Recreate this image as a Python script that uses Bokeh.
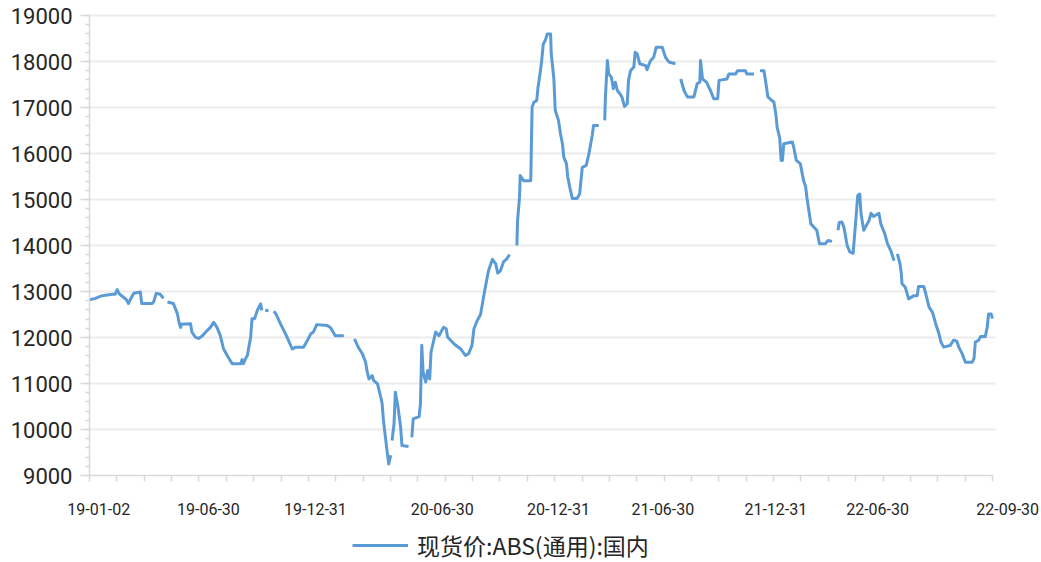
from bokeh.plotting import figure
from bokeh.models import (Range1d, FixedTicker, SingleIntervalTicker, Legend,
                          LegendItem, ColumnDataSource, Grid)
from bokeh.embed import file_html
from bokeh.resources import INLINE
import numpy as np

NA = float("nan")  # gap in the series

# ---- data ----
start_date = "2019-01-02"          # day 0
end_day = 1367                     # 2022-09-30
series_name = "现货价:ABS(通用):国内"

day_offsets = [
    0, 9, 17, 24, 35, 39, 42, 45, 51, 56, 59, 62, 67, 77, 79, 95, 97, 101, 107, 112,
    115,
    118, 127, 133, 136, 138, 139, 153, 155, 160, 165, 171, 176, 183, 188, 193, 198, 203,
    210, 216, 229, 231, 233, 237, 239, 244, 246, 250, 254, 259, 261,
    263,
    266, 271,
    275,
    279, 282, 289, 299, 307, 312, 324, 330, 335, 339, 344, 360, 365, 372, 385,
    393,
    401, 408, 413, 418, 420, 423, 428, 430, 436, 441, 443, 445, 448, 451, 453, 456,
    457,
    458, 461, 463, 467, 471, 473, 483,
    485,
    488, 490, 499, 501, 503, 505, 509, 512, 515, 517, 524, 529, 536, 540, 542, 552, 562,
    569, 574, 579, 582, 587, 592, 598, 604, 610, 615, 618, 622, 627, 631, 636,
    641,
    647, 648, 651, 652, 657, 668, 670, 673, 677, 679, 682, 684, 687, 690, 693, 698, 699,
    703, 705, 710, 713, 716, 718, 722, 724, 727, 731, 738, 742, 746, 752, 756, 761, 763, 771,
    775,
    780, 781, 784, 786, 790, 793, 796, 799, 803, 806, 810, 814, 816, 819, 824, 826, 829,
    833, 842, 844, 849, 854, 858, 867, 872, 877, 887,
    891,
    895, 900, 905, 915, 920, 924, 925, 928, 934, 940, 945, 951, 953, 965, 968, 978, 981,
    993, 995, 1006,
    1010,
    1015, 1021, 1023, 1027, 1033, 1036, 1039, 1041, 1044, 1045, 1047, 1049, 1051, 1064,
    1066, 1070, 1076, 1081, 1084, 1086, 1089, 1092, 1096, 1101, 1105, 1114, 1118, 1124,
    1128,
    1133, 1135, 1139, 1142, 1147, 1151, 1156, 1160, 1163, 1166, 1168, 1172, 1180, 1183,
    1187, 1195, 1198, 1204, 1208, 1213, 1218,
    1220,
    1223, 1227, 1229, 1230, 1235, 1240, 1248, 1253, 1255, 1263, 1266, 1271, 1276, 1281,
    1286, 1289, 1293, 1303, 1308, 1313, 1316, 1321, 1326, 1336, 1339, 1341, 1346, 1349,
    1356, 1359, 1361, 1365, 1367,
]

prices = [
    12820, 12850, 12900, 12920, 12940, 12940, 13040, 12950, 12880, 12820, 12740, 12830,
    12960, 12990, 12740, 12740, 12770, 12960, 12940, 12850,
    NA,
    12770, 12740, 12520, 12300, 12220, 12290, 12300, 12120, 12010, 11980, 12040, 12120,
    12220, 12330, 12220, 12040, 11750, 11570, 11430, 11430, 11520, 11430, 11560, 11610,
    12010, 12410, 12410, 12590, 12730, 12590,
    NA,
    12590, 12580,
    NA,
    12570, 12520, 12300, 12010, 11750, 11790, 11790, 11940, 12080, 12120, 12280, 12260,
    12210, 12040, 12040,
    NA,
    11970, 11760, 11650, 11460, 11280, 11100, 11170, 11070, 10990, 10700, 10560, 10200,
    9830, 9470, 9250, 9440,
    NA,
    9760, 10120, 10810, 10490, 10050, 9650, 9630,
    NA,
    9830, 10230, 10280, 10560, 11830, 11250, 11030, 11280, 11100, 11680, 12120, 12040,
    12220, 12190, 12010, 11860, 11750, 11610, 11650, 11830, 12190, 12370, 12500, 13000,
    13450, 13700, 13600, 13400, 13450, 13650, 13700, 13800,
    NA,
    14000, 14540, 15050, 15520, 15410, 15410, 17010, 17120, 17150, 17440, 17730, 17950,
    18380, 18460, 18600, 18600, 18170, 17620, 16940, 16720, 16430, 16210, 15920, 15780,
    15490, 15270, 15020, 15020, 15120, 15700, 15740, 15990, 16390, 16610, 16610,
    NA,
    16720, 17220, 18020, 17730, 17660, 17410, 17550, 17370, 17300, 17230, 17020, 17080,
    17590, 17800, 17880, 18200, 18170, 17950, 17910, 17820, 18010, 18090, 18310, 18310,
    18090, 17990, 17950,
    NA,
    17620, 17370, 17230, 17230, 17520, 17550, 18020, 17620, 17550, 17370, 17190, 17190,
    17590, 17620, 17730, 17730, 17800, 17800, 17730, 17730,
    NA,
    17800, 17800, 17620, 17230, 17150, 17120, 16860, 16570, 16390, 16320, 15850, 15850,
    16210, 16250, 16140, 15850, 15780, 15410, 15290, 15050, 14760, 14470, 14410, 14330,
    14040, 14040, 14110, 14090,
    NA,
    14330, 14500, 14510, 14400, 14000, 13860, 13830, 14540, 15090, 15120, 14690, 14330,
    14540, 14700, 14630, 14700, 14470, 14250, 14040, 13890, 13670,
    NA,
    13820, 13600, 13380, 13170, 13090, 12840, 12910, 12910, 13110, 13110, 12950, 12660,
    12550, 12300, 12080, 11900, 11790, 11830, 11940, 11920, 11790, 11650, 11460, 11460,
    11540, 11900, 11940, 12020, 12020, 12220, 12510, 12510, 12410,
]

tick_labels = ["19-01-02", "19-06-30", "19-12-31", "20-06-30", "20-12-31",
               "21-06-30", "21-12-31", "22-06-30", "22-09-30"]

# ---- layout / style ----
y_min, y_max = 9000, 19000
label_pos = [14, 180, 342, 534, 710, 868, 1039, 1193, 1390]   # where labels sit on the axis
n_axis_ticks = 34
grid_end = 1372
W, H = 1041, 562
px_per_unit = 0.046                  # 46 px per 1000
px_per_day = 903 / end_day
axis_x_px, axis_y_px, top_px = 89, 475, 15   # where the axes and the 19000 line sit
BLUE = "#5b9bd5"
AXIS_GRAY = "#d9d9d9"
GRID_GRAY = "#ececec"
TEXT = "#262626"

# the frame covers the whole canvas; the axes are pinned at day 0 and at 9000
x_start = -axis_x_px / px_per_day
x_end = (W - axis_x_px) / px_per_day
y_start = y_min - (H - axis_y_px) / px_per_unit
y_end = y_max + top_px / px_per_unit

src = ColumnDataSource(data=dict(day=day_offsets, price=prices))

p = figure(width=W, height=H, output_backend="svg", toolbar_location=None,
           x_range=Range1d(x_start, x_end), y_range=Range1d(y_start, y_end),
           min_border_left=0, min_border_right=0, min_border_top=0,
           min_border_bottom=0)
p.outline_line_color = None
p.background_fill_color = "white"
p.border_fill_color = "white"

r = p.line(x="day", y="price", source=src, line_color=BLUE, line_width=3,
           line_join="round")

# x axis, fixed at the 9000 level (its line is drawn by a bounded grid line)
xa = p.xaxis[0]
xa.fixed_location = y_min
xa.ticker = FixedTicker(ticks=label_pos,
                        minor_ticks=[float(v) for v in np.linspace(0, end_day, n_axis_ticks)])
xa.major_label_overrides = {pos: lab for pos, lab in zip(label_pos, tick_labels)}
xa.axis_line_color = None
xa.major_tick_line_color = None
xa.major_tick_out = 0
xa.major_tick_in = 0
xa.minor_tick_out = 6
xa.minor_tick_in = 0
xa.minor_tick_line_color = AXIS_GRAY
xa.minor_tick_line_width = 1.5
xa.major_label_text_font = "Roboto"
xa.major_label_text_font_size = "16px"
xa.major_label_text_color = TEXT
xa.major_label_standoff = 21

# y axis, fixed at day 0
ya = p.yaxis[0]
ya.fixed_location = 0
ya.bounds = (y_min, y_max)
ya.ticker = SingleIntervalTicker(interval=1000, num_minor_ticks=5)
ya.axis_line_color = AXIS_GRAY
ya.axis_line_width = 1.5
ya.major_tick_line_color = AXIS_GRAY
ya.major_tick_line_width = 1.5
ya.major_tick_out = 9
ya.major_tick_in = 0
ya.minor_tick_line_color = AXIS_GRAY
ya.minor_tick_line_width = 1.5
ya.minor_tick_out = 4
ya.minor_tick_in = 0
ya.major_label_standoff = 8
ya.major_label_text_font = "Roboto"
ya.major_label_text_font_size = "22px"
ya.major_label_text_color = TEXT

p.xgrid.visible = False
p.ygrid.visible = False
has_cross = "cross_bounds" in Grid.properties()
gy = list(range(y_min + 1000, y_max + 1, 1000))
if has_cross:
    grid = Grid(dimension=1, ticker=FixedTicker(ticks=gy), cross_bounds=(0, grid_end),
                grid_line_color=GRID_GRAY, grid_line_width=2)
    base = Grid(dimension=1, ticker=FixedTicker(ticks=[y_min]), cross_bounds=(0, end_day),
                grid_line_color=AXIS_GRAY, grid_line_width=1.5)
    p.add_layout(grid)
    p.add_layout(base)
else:
    p.segment(x0=[0] * len(gy), x1=[grid_end] * len(gy), y0=gy, y1=gy,
              line_color=GRID_GRAY, line_width=2, level="underlay")
    p.segment(x0=[0], x1=[end_day], y0=[y_min], y1=[y_min],
              line_color=AXIS_GRAY, line_width=1.5, level="underlay")

legend = Legend(items=[LegendItem(label=series_name, renderers=[r])],
                location=(352, 0), orientation="horizontal", padding=0, margin=0,
                spacing=0, glyph_width=56, glyph_height=30, label_height=30,
                label_standoff=9,
                label_text_font="Noto Sans CJK SC", label_text_font_size="23px",
                label_text_color=TEXT, border_line_color=None,
                background_fill_alpha=0)
p.add_layout(legend)

open("out.html", "w").write(file_html(p, INLINE))
